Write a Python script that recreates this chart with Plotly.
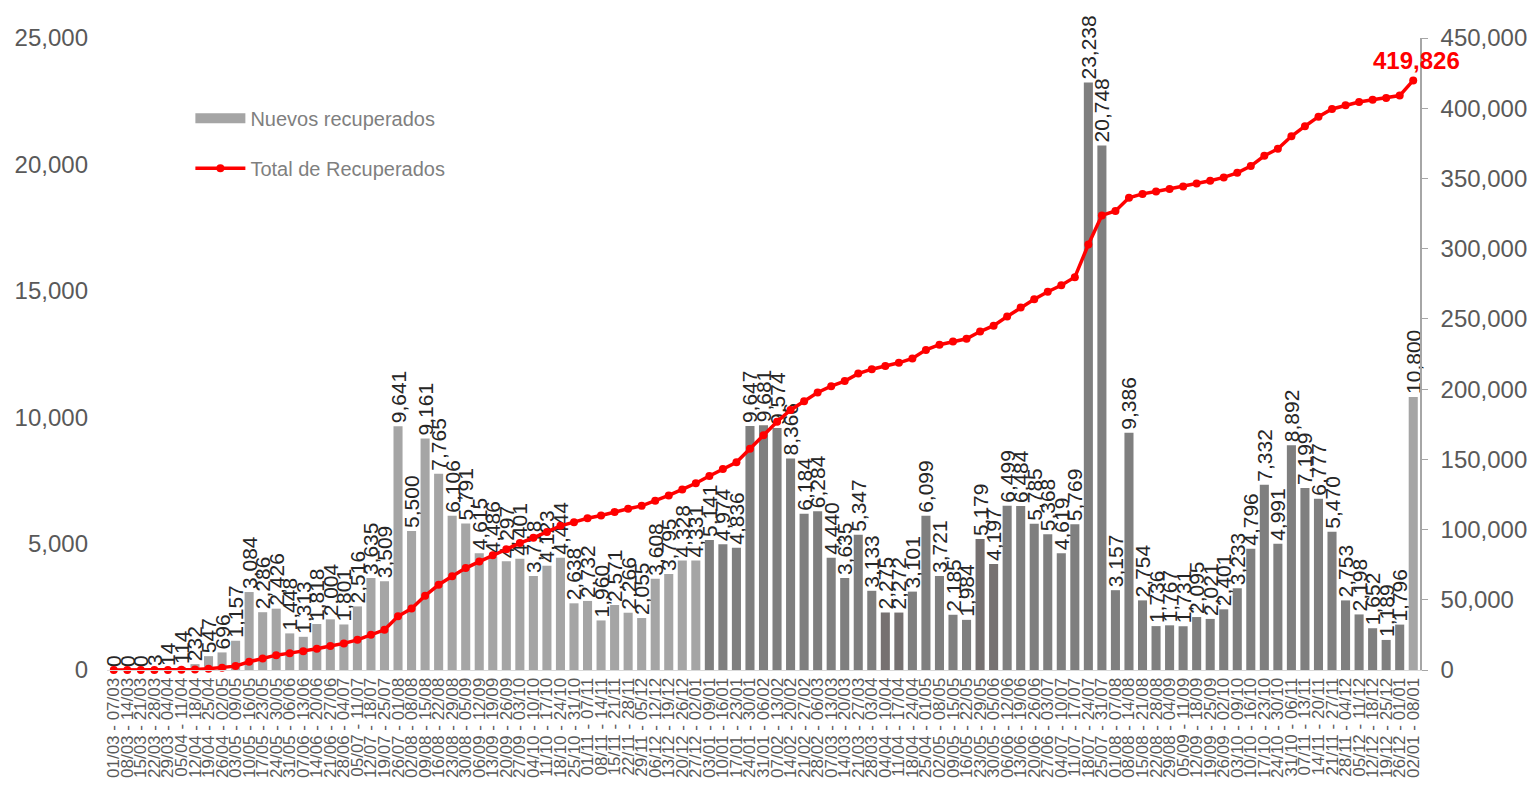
import plotly.graph_objects as go

semanas = [
    "01/03 - 07/03", "08/03 - 14/03", "15/03 - 21/03", "22/03 - 28/03", "29/03 - 04/04",
    "05/04 - 11/04", "12/04 - 18/04", "19/04 - 25/04", "26/04 - 02/05", "03/05 - 09/05",
    "10/05 - 16/05", "17/05 - 23/05", "24/05 - 30/05", "31/05 - 06/06", "07/06 - 13/06",
    "14/06 - 20/06", "21/06 - 27/06", "28/06 - 04/07", "05/07 - 11/07", "12/07 - 18/07",
    "19/07 - 25/07", "26/07 - 01/08", "02/08 - 08/08", "09/08 - 15/08", "16/08 - 22/08",
    "23/08 - 29/08", "30/08 - 05/09", "06/09 - 12/09", "13/09 - 19/09", "20/09 - 26/09",
    "27/09 - 03/10", "04/10 - 10/10", "11/10 - 17/10", "18/10 - 24/10", "25/10 - 31/10",
    "01/11 - 07/11", "08/11 - 14/11", "15/11 - 21/11", "22/11 - 28/11", "29/11 - 05/12",
    "06/12 - 12/12", "13/12 - 19/12", "20/12 - 26/12", "27/12 - 02/01",
    "03/01 - 09/01", "10/01 - 16/01", "17/01 - 23/01", "24/01 - 30/01", "31/01 - 06/02",
    "07/02 - 13/02", "14/02 - 20/02", "21/02 - 27/02", "28/02 - 06/03", "07/03 - 13/03",
    "14/03 - 20/03", "21/03 - 27/03", "28/03 - 03/04", "04/04 - 10/04", "11/04 - 17/04",
    "18/04 - 24/04", "25/04 - 01/05", "02/05 - 08/05", "09/05 - 15/05", "16/05 - 22/05",
    "23/05 - 29/05", "30/05 - 05/06", "06/06 - 12/06", "13/06 - 19/06", "20/06 - 26/06",
    "27/06 - 03/07", "04/07 - 10/07", "11/07 - 17/07", "18/07 - 24/07", "25/07 - 31/07",
    "01/08 - 07/08", "08/08 - 14/08", "15/08 - 21/08", "22/08 - 28/08", "29/08 - 04/09",
    "05/09 - 11/09", "12/09 - 18/09", "19/09 - 25/09", "26/09 - 02/10", "03/10 - 09/10",
    "10/10 - 16/10", "17/10 - 23/10", "24/10 - 30/10", "31/10 - 06/11", "07/11 - 13/11",
    "14/11 - 20/11", "21/11 - 27/11", "28/11 - 04/12", "05/12 - 11/12", "12/12 - 18/12",
    "19/12 - 25/12", "26/12 - 01/01",
    "02/01 - 08/01",
]

nuevos_2020 = [
    0, 0, 0, 3, 14, 114, 232, 547, 696, 1157, 3084, 2286, 2426, 1448, 1313, 1818, 2004, 1801,
    2516, 3635, 3509, 9641, 5500, 9161, 7765, 6106, 5791, 4615, 4486, 4297, 4401, 3718, 4123,
    4444, 2638, 2732, 1960, 2571, 2266, 2055, 3608, 3795, 4328, 4331,
]
nuevos_2021 = [
    5141, 4974, 4836, 9647, 9681, 9574, 8366, 6184, 6284, 4440, 3635, 5347, 3133, 2275, 2272,
    3101, 6099, 3721, 2185, 1984, 5179, 4197, 6499, 6484, 5785, 5368, 4619, 5769, 23238, 20748,
    3157, 9386, 2754, 1736, 1767, 1731, 2095, 2021, 2401, 3233, 4796, 7332, 4991, 8892, 7199,
    6777, 5470, 2753, 2198, 1652, 1189, 1796,
]
nuevos_2022 = [10800]

total_recuperados = [
    0, 0, 0, 3, 17, 131, 363, 910, 1606, 2763, 5847, 8133, 10559, 12007, 13320, 15138, 17142,
    18943, 21459, 25094, 28603, 38244, 43744, 52905, 60670, 66776, 72567, 77182, 81668, 85965,
    90366, 94084, 98207, 102651, 105289, 108021, 109981, 112552, 114818, 116873, 120481, 124276,
    128604, 132935,
    138076, 143050, 147886, 157533, 167214, 176788, 185154, 191338, 197622, 202062, 205697,
    211044, 214177, 216452, 218724, 221825, 227924, 231645, 233830, 235814, 240993, 245190,
    251689, 258173, 263958, 269326, 273945, 279714, 302952, 323700, 326857, 336243, 338997,
    340733, 342500, 344231, 346326, 348347, 350748, 353981, 358777, 366109, 371100, 379992,
    387191, 393968, 399438, 402191, 404389, 406041, 407230, 409026,
    419826,
]

nuevos = nuevos_2020 + nuevos_2021 + nuevos_2022

LIGHT = "#A5A5A5"
DARK = "#7F7F7F"
DARK2 = "#767171"
colores = [LIGHT] * len(nuevos_2020)
for i in range(len(nuevos_2021)):
    colores.append(DARK2 if i in (13, 14, 20, 21) else DARK)
colores += [LIGHT] * len(nuevos_2022)

FONT = "Liberation Sans"

fig = go.Figure()

fig.add_trace(go.Bar(
    x=semanas, y=nuevos,
    marker=dict(color=colores, line=dict(width=0)),
    text=[f"{v:,}" for v in nuevos],
    textposition="outside",
    textangle=-90,
    textfont=dict(family=FONT, size=21, color="#262626"),
    constraintext="none",
    cliponaxis=False,
    showlegend=False,
    name="Nuevos recuperados",
))

# legend entry for the bars (wide grey swatch)
fig.add_trace(go.Scatter(
    x=[None], y=[None], mode="lines",
    line=dict(color=LIGHT, width=10),
    name="Nuevos recuperados",
    legend="legend",
))

fig.add_trace(go.Scatter(
    x=semanas, y=total_recuperados, yaxis="y2",
    mode="lines+markers",
    line=dict(color="#FF0000", width=3.5),
    marker=dict(color="#FF0000", size=8),
    name="Total de Recuperados",
    legend="legend2",
    cliponaxis=False,
))

fig.add_annotation(
    x=semanas[-1], y=total_recuperados[-1], yref="y2",
    text=f"<b>{total_recuperados[-1]:,}</b>",
    showarrow=False, yanchor="bottom", yshift=4, xshift=3,
    font=dict(family=FONT, size=24, color="#FF0000"),
)

fig.update_layout(
    width=1540, height=798,
    margin=dict(l=99, r=128, t=30, b=136),
    paper_bgcolor="white", plot_bgcolor="white",
    bargap=0.33,
    font=dict(family=FONT),
    xaxis=dict(
        type="category", tickangle=-90, automargin=False,
        range=[-0.5, len(semanas) - 0.5], dtick=1,
        tickfont=dict(family=FONT, size=17, color="#595959"),
        showline=True, linecolor="#D9D9D9", linewidth=1,
        ticks="", showgrid=False,
    ),
    yaxis=dict(
        range=[0, 25000], dtick=5000, tickformat=",",
        showgrid=False, zeroline=False, showline=False, ticks="",
        tickfont=dict(family=FONT, size=24, color="#595959"),
        automargin=False, ticklabelstandoff=18,
    ),
    yaxis2=dict(
        overlaying="y", side="right",
        range=[0, 450000], dtick=50000, tickformat=",",
        showgrid=False, zeroline=False,
        showline=True, linecolor="#A6A6A6", linewidth=1.5,
        ticks="outside", ticklen=6, tickcolor="#A6A6A6",
        tickfont=dict(family=FONT, size=24, color="#595959"),
        automargin=False, ticklabelstandoff=8,
    ),
    legend=dict(
        x=0.0635, y=0.873, xanchor="left", yanchor="middle",
        bgcolor="rgba(0,0,0,0)", itemwidth=50,
        font=dict(family=FONT, size=20, color="#7F7F7F"),
    ),
    legend2=dict(
        x=0.0635, y=0.794, xanchor="left", yanchor="middle",
        bgcolor="rgba(0,0,0,0)", itemwidth=50,
        font=dict(family=FONT, size=20, color="#7F7F7F"),
    ),
)

fig.write_html("out.html")
